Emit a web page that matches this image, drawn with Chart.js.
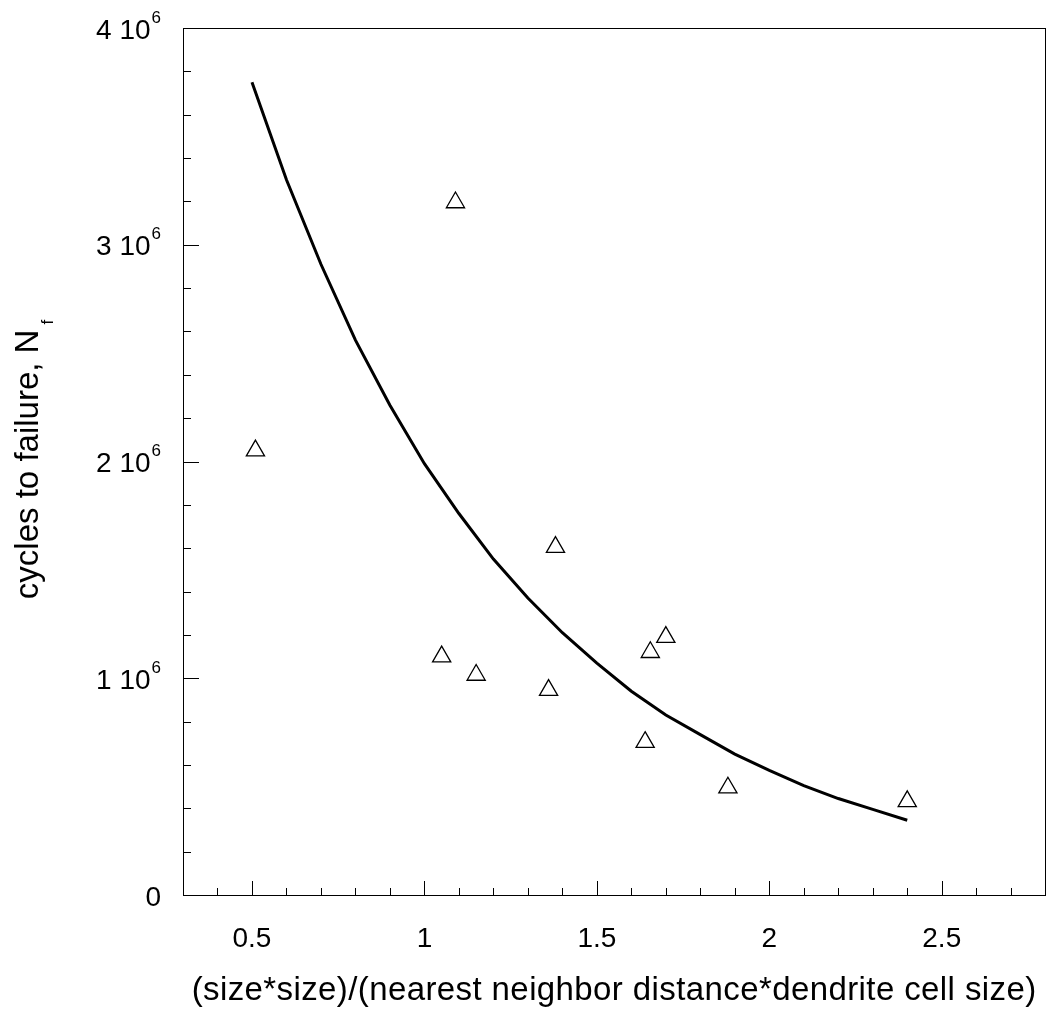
<!DOCTYPE html>
<html>
<head>
<meta charset="utf-8">
<script src="https://cdn.jsdelivr.net/npm/chart.js@4"></script>
<style>
  html, body { margin: 0; padding: 0; background: #fff; }
  #wrap { width: 1057px; height: 1009px; }
</style>
</head>
<body>
<div id="wrap"><canvas id="nfChart" width="1057" height="1009"></canvas></div>
<script>
/* =========================================================
   DATA
========================================================= */
// measured specimens
const ratioX  = [0.51, 1.09, 1.05, 1.15, 1.38, 1.36, 1.655, 1.70, 1.64, 1.88, 2.40];
const cyclesY = [2.05e6, 3.195e6, 1.10e6, 1.015e6, 1.605e6, 0.945e6, 1.12e6, 1.19e6, 0.705e6, 0.495e6, 0.432e6];

// fitted curve
const fitX = [0.5, 0.6, 0.7, 0.8, 0.9, 1.0, 1.1, 1.2, 1.3, 1.4,
              1.5, 1.6, 1.7, 1.8, 1.9, 2.0, 2.1, 2.2, 2.3, 2.4];
const fitY = [3.75e6, 3.30e6, 2.91e6, 2.56e6, 2.26e6, 1.99e6, 1.76e6, 1.55e6, 1.37e6, 1.21e6,
              1.07e6, 0.94e6, 0.83e6, 0.74e6, 0.65e6, 0.575e6, 0.505e6, 0.445e6, 0.395e6, 0.345e6];

// axes
const xRange      = [0.3, 2.8];
const yRange      = [0, 4e6];
const xTicks      = [0.5, 1, 1.5, 2, 2.5];
const xTickLabels = ["0.5", "1", "1.5", "2", "2.5"];
const yTicks      = [0, 1e6, 2e6, 3e6, 4e6];
const yTickLabels = ["0", "1 10", "2 10", "3 10", "4 10"];
const yTickExp    = ["", "6", "6", "6", "6"];

const xTitle = "(size*size)/(nearest neighbor distance*dendrite cell size)";
const yTitle = "cycles to failure, N";
const yTitleSub = "f";

/* =========================================================
   HELPERS
========================================================= */
const FONT = "'Liberation Sans', Arial, sans-serif";

function toPoints(xs, ys) {
  return xs.map((x, i) => ({ x, y: ys[i] }));
}

/* =========================================================
   FRAME, TICKS AND LABELS
========================================================= */
const axesDecor = {
  id: "axesDecor",
  afterDraw(chart) {
    const ctx = chart.ctx;
    const { left, right, top, bottom } = chart.chartArea;
    const xs = chart.scales.x;
    const ys = chart.scales.y;

    ctx.save();
    ctx.strokeStyle = "#000";
    ctx.lineWidth = 1;

    // box
    ctx.strokeRect(Math.round(left) + 0.5, Math.round(top) + 0.5,
                   Math.round(right - left), Math.round(bottom - top));

    // x ticks (inward, minor every 0.1)
    ctx.beginPath();
    for (let k = 4; k <= 27; k++) {
      const v = k / 10;
      const px = Math.round(xs.getPixelForValue(v)) + 0.5;
      const len = (k % 5 === 0) ? 14 : 7;
      ctx.moveTo(px, bottom);
      ctx.lineTo(px, bottom - len);
    }
    // y ticks (inward, minor every 2e5)
    for (let k = 0; k < 20; k++) {
      const v = k * 2e5;
      const py = Math.round(ys.getPixelForValue(v)) + 0.5;
      const len = (k % 5 === 0) ? 16 : 8;
      ctx.moveTo(left, py);
      ctx.lineTo(left + len, py);
    }
    ctx.stroke();

    ctx.fillStyle = "#000";

    // x tick labels
    ctx.font = "28px " + FONT;
    ctx.textAlign = "center";
    ctx.textBaseline = "alphabetic";
    xTicks.forEach((v, i) => {
      ctx.fillText(xTickLabels[i], xs.getPixelForValue(v), bottom + 52);
    });

    // y tick labels with superscript exponent
    const yLabelRight = left - 22;
    yTicks.forEach((v, i) => {
      const py = ys.getPixelForValue(v) + 10.5;
      let x = yLabelRight;
      ctx.textAlign = "right";
      if (yTickExp[i]) {
        ctx.font = "17px " + FONT;
        ctx.fillText(yTickExp[i], x, py - 16);
        x -= ctx.measureText(yTickExp[i]).width + 1;
      }
      ctx.font = "28px " + FONT;
      ctx.fillText(yTickLabels[i], x, py);
    });

    // x axis title
    ctx.font = "33px " + FONT;
    ctx.letterSpacing = "0.4px";
    ctx.textAlign = "center";
    ctx.fillText(xTitle, (left + right) / 2, 1000);
    ctx.letterSpacing = "0px";

    // y axis title, rotated, with subscript
    ctx.save();
    ctx.translate(38, (top + bottom) / 2 - 2);
    ctx.rotate(-Math.PI / 2);
    ctx.font = "33px " + FONT;
    const wMain = ctx.measureText(yTitle).width;
    ctx.font = "17px " + FONT;
    const wSub = ctx.measureText(yTitleSub).width;
    const start = -(wMain + wSub + 5) / 2;
    ctx.textAlign = "left";
    ctx.font = "33px " + FONT;
    ctx.fillText(yTitle, start, 0);
    ctx.font = "17px " + FONT;
    ctx.fillText(yTitleSub, start + wMain + 5, 15);
    ctx.restore();

    ctx.restore();
  }
};

/* =========================================================
   CHART
========================================================= */
new Chart(document.getElementById("nfChart"), {
  type: "scatter",
  data: {
    datasets: [
      {
        type: "line",
        label: "fit",
        data: toPoints(fitX, fitY),
        borderColor: "#000",
        borderWidth: 3,
        pointRadius: 0,
        tension: 0,
        fill: false
      },
      {
        label: "Nf",
        data: toPoints(ratioX, cyclesY),
        pointStyle: "triangle",
        pointRadius: 10.5,
        borderColor: "#000",
        borderWidth: 1.3,
        backgroundColor: "rgba(0,0,0,0)"
      }
    ]
  },
  options: {
    responsive: false,
    animation: false,
    layout: { padding: { left: 183, top: 28, right: 2, bottom: 114 } },
    plugins: {
      legend: { display: false },
      tooltip: { enabled: false }
    },
    scales: {
      x: { type: "linear", display: false, min: xRange[0], max: xRange[1] },
      y: { type: "linear", display: false, min: yRange[0], max: yRange[1] }
    }
  },
  plugins: [axesDecor]
});
</script>
</body>
</html>
